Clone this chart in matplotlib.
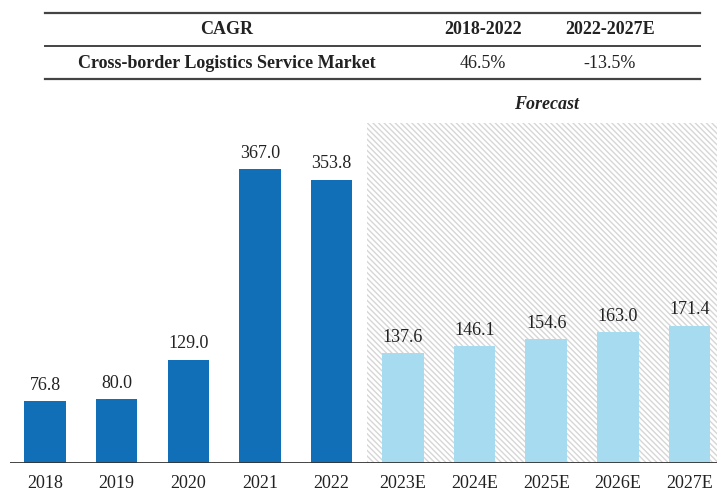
import matplotlib.pyplot as plt
from matplotlib.lines import Line2D
from matplotlib.patches import Rectangle

plt.rcParams['font.family'] = ['Liberation Serif', 'DejaVu Serif']
plt.rcParams['hatch.linewidth'] = 1.0

# data
years = ["2018", "2019", "2020", "2021", "2022", "2023E", "2024E", "2025E", "2026E", "2027E"]
values = [76.8, 80.0, 129.0, 367.0, 353.8, 137.6, 146.1, 154.6, 163.0, 171.4]
n_actual = 5

cagr_cols = ["CAGR", "2018-2022", "2022-2027E"]
cagr_row = ["Cross-border Logistics Service Market", "46.5%", "-13.5%"]

dark_blue = "#116fb8"
light_blue = "#a7dcf0"

fig = plt.figure(figsize=(7.17, 4.93), dpi=100)
W, H = 717, 493

# CAGR table on top
def fx(px):
    return px / W

def fy(py):
    return 1 - py / H

for py, lw in [(13, 1.6), (46, 1.4), (79, 1.6)]:
    fig.add_artist(Line2D([fx(45), fx(700)], [fy(py), fy(py)], color="#444444", lw=lw))

col_x = [227, 483, 610]
for x, t in zip(col_x, cagr_cols):
    fig.text(fx(x), fy(30), t, ha="center", va="center", fontsize=13, fontweight="bold", color="#222222")
for i, (x, t) in enumerate(zip(col_x, cagr_row)):
    fig.text(fx(x), fy(63), t, ha="center", va="center", fontsize=13,
             fontweight="bold" if i == 0 else "normal", color="#222222")

# bar chart
ax = fig.add_axes([fx(10), fy(463), fx(707), fy(95) - fy(463)])
x = list(range(len(years)))
colors = [dark_blue if i < n_actual else light_blue for i in x]

ymax = 459.4
ax.set_xlim(-0.49, 9.385)
ax.set_ylim(0, ymax)

# forecast shaded area
ax.add_patch(Rectangle((n_actual - 0.5, 0), 10, 424.5, facecolor="white",
                       edgecolor="#d6d6d6", linewidth=0, hatch="\\\\\\\\\\\\", zorder=1))
ax.text(7, 437, "Forecast", ha="center", va="bottom", fontsize=13,
        fontweight="bold", fontstyle="italic", color="#222222")

bars = ax.bar(x, values, width=0.58, color=colors, zorder=2)
for xi, v in zip(x, values):
    ax.text(xi, v + 9, f"{v:.1f}", ha="center", va="bottom", fontsize=13, color="#222222")

ax.axhline(0, color="#333333", lw=2, zorder=3)

ax.set_xticks(x)
ax.set_xticklabels(years, fontsize=13, color="#222222")
ax.tick_params(axis="x", length=0, pad=9)
ax.set_yticks([])
for s in ax.spines.values():
    s.set_visible(False)

fig.savefig("out.png", dpi=100)
